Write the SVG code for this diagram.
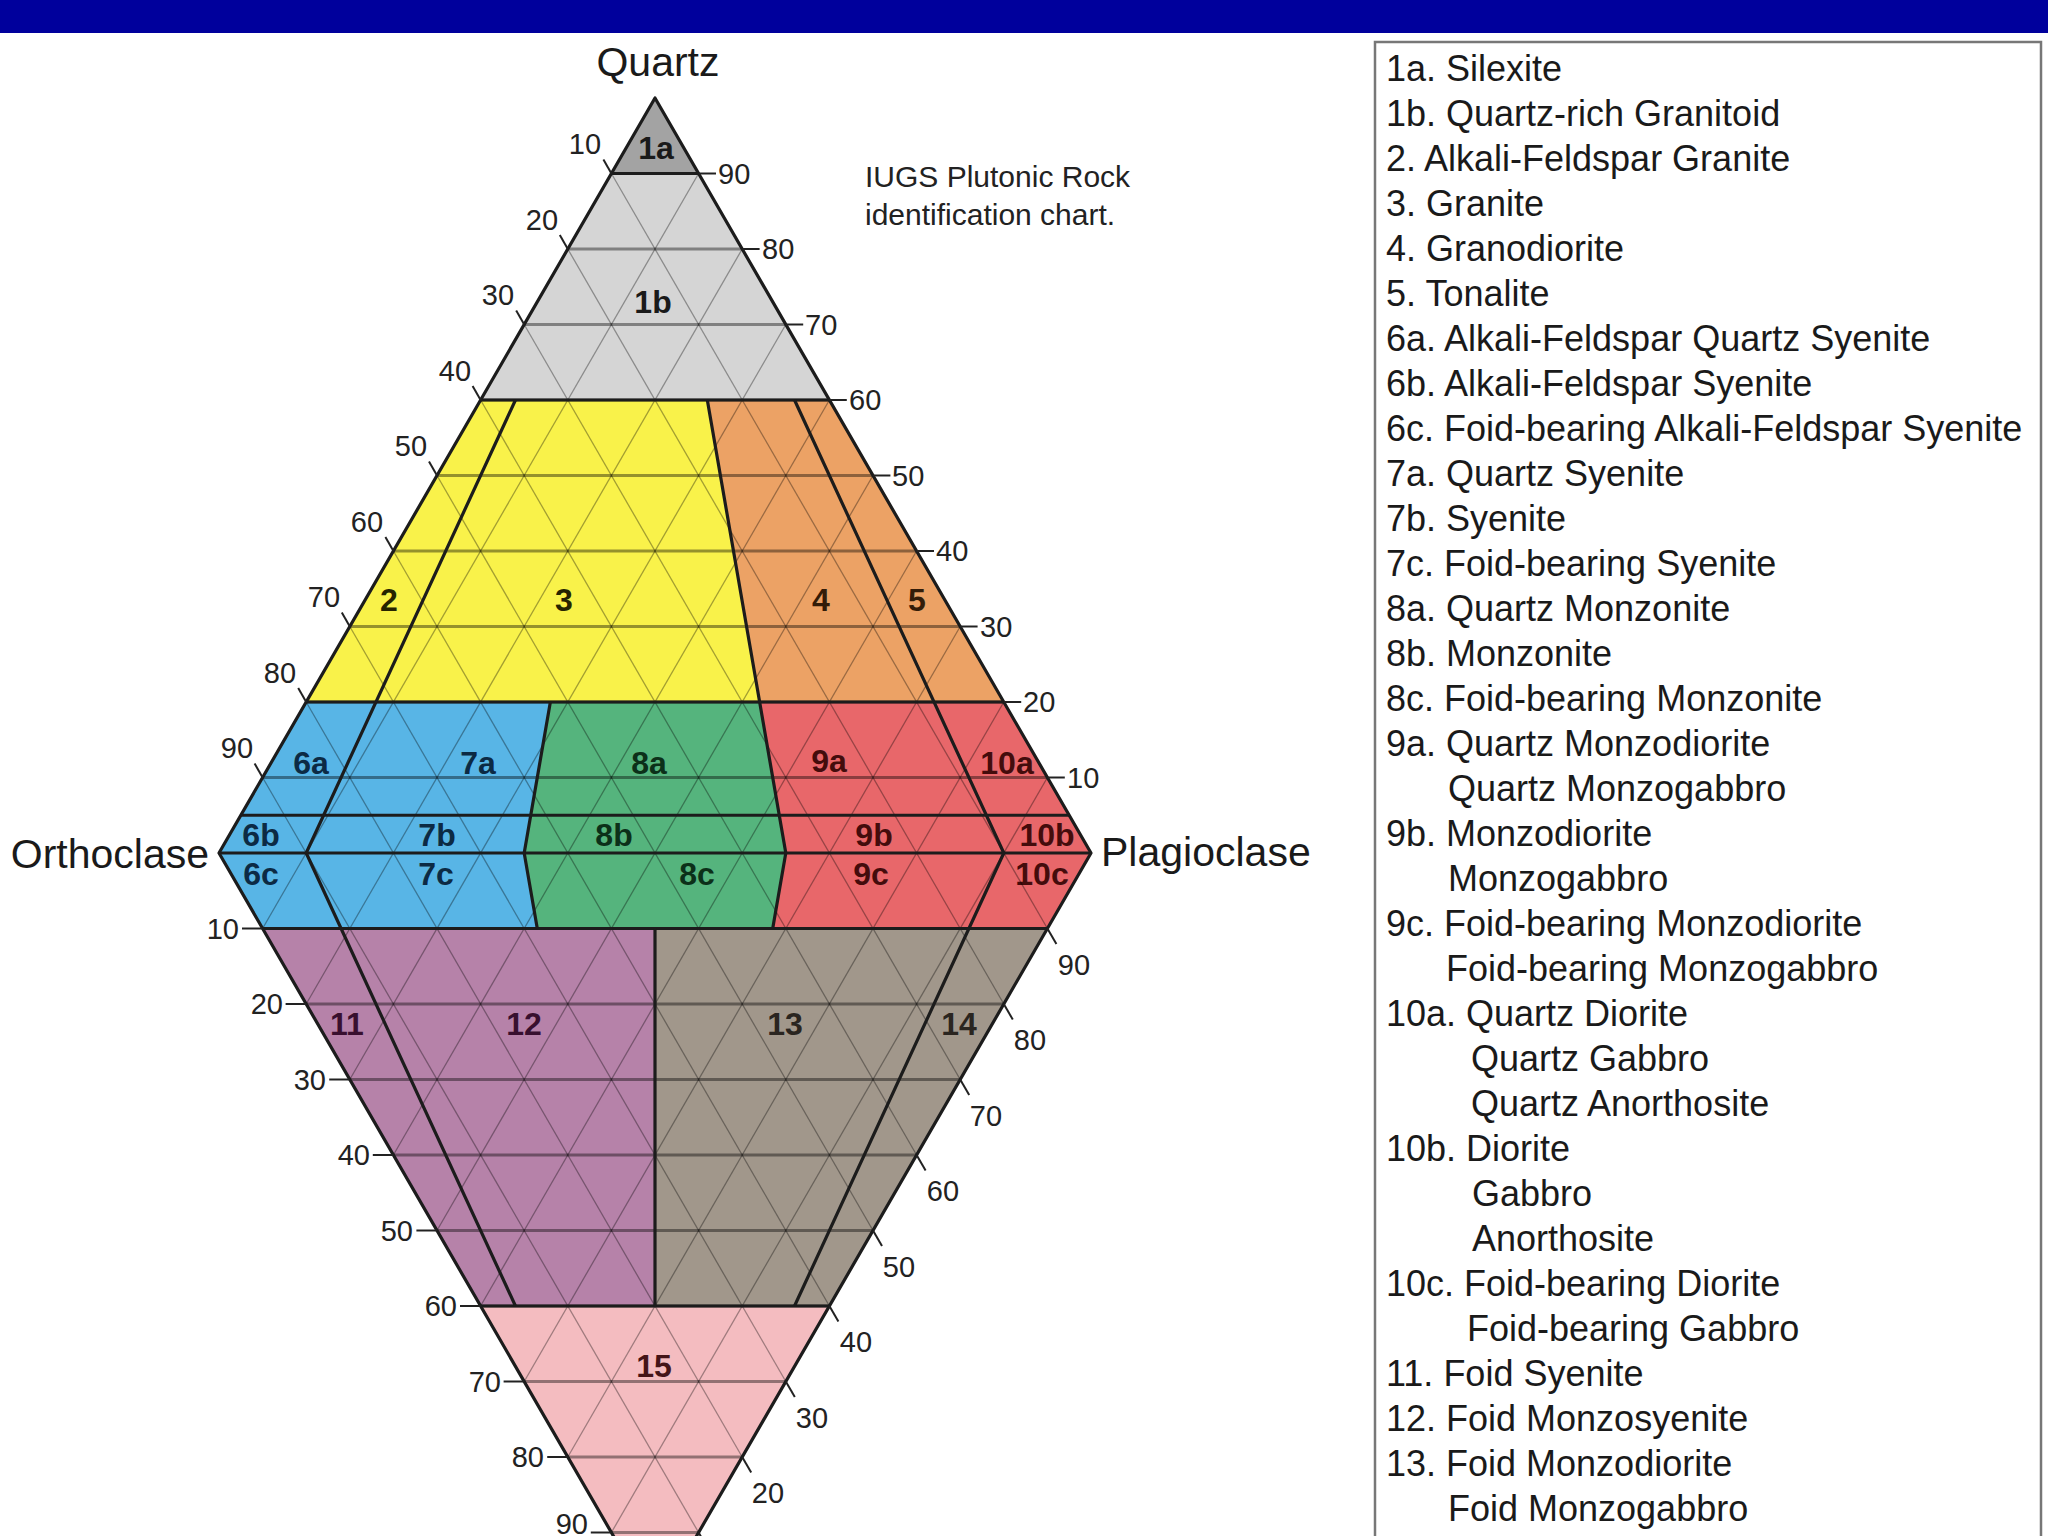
<svg xmlns="http://www.w3.org/2000/svg" width="2048" height="1536" viewBox="0 0 2048 1536">
<style>
.fld{stroke:none}
.lbl{font-family:"Liberation Sans",Arial,sans-serif;font-weight:bold;font-size:32px;fill:#1a1a1a;text-anchor:middle}
.grid line{stroke:#000;stroke-opacity:0.35;stroke-width:1.3}
.grid .h{stroke-width:2.8;stroke-opacity:0.4}
.bnd{fill:none;stroke:#1c1c1c;stroke-width:3.2;stroke-linejoin:round}
.tick{stroke:#222;stroke-width:2}
.tl{font-family:"Liberation Sans",Arial,sans-serif;font-size:29px;fill:#222}
.ax{font-family:"Liberation Sans",Arial,sans-serif;font-size:41px;fill:#1a1a1a}
.leg{font-family:"Liberation Sans",Arial,sans-serif;font-size:36px;fill:#1a1a1a}
</style>
<rect x="0" y="0" width="2048" height="1536" fill="#fff"/>
<rect x="0" y="0" width="2048" height="33" fill="#00009c"/>

<g id="node-1a"><polygon class="fld" fill="#a3a3a3" points="655,98 698.6,173.5 611.4,173.5"/><text class="lbl" x="656" y="159">1a</text></g>
<g id="node-1b"><polygon class="fld" fill="#d5d5d5" points="611.4,173.5 698.6,173.5 829.4,400 480.6,400"/><text class="lbl" x="653" y="313">1b</text></g>
<g id="node-2"><polygon class="fld" fill="#f9f24a" points="480.6,400 515.48,400 375.96,702 306.2,702"/><text class="lbl" x="389" y="611" style="fill:#262400">2</text></g>
<g id="node-3"><polygon class="fld" fill="#f9f24a" points="515.48,400 707.32,400 759.64,702 375.96,702"/><text class="lbl" x="564" y="611" style="fill:#262400">3</text></g>
<g id="node-4"><polygon class="fld" fill="#eca265" points="707.32,400 794.52,400 934.04,702 759.64,702"/><text class="lbl" x="821" y="611" style="fill:#331c08">4</text></g>
<g id="node-5"><polygon class="fld" fill="#eca265" points="794.52,400 829.4,400 1003.8,702 934.04,702"/><text class="lbl" x="917" y="611" style="fill:#331c08">5</text></g>
<g id="node-6" style="fill:#0c2a44"><polygon class="fld" fill="#58b5e6" points="306.2,702 375.96,702 306.2,853 341.08,928.5 262.6,928.5 219,853"/><text class="lbl" x="311" y="774" style="fill:#0c2a44">6a</text><text class="lbl" x="261" y="846" style="fill:#0c2a44">6b</text><text class="lbl" x="261" y="885" style="fill:#0c2a44">6c</text></g>
<g id="node-7"><polygon class="fld" fill="#58b5e6" points="375.96,702 550.36,702 524.2,853 537.28,928.5 341.08,928.5 306.2,853"/><text class="lbl" x="478" y="774" style="fill:#0c2a44">7a</text><text class="lbl" x="437" y="846" style="fill:#0c2a44">7b</text><text class="lbl" x="436" y="885" style="fill:#0c2a44">7c</text></g>
<g id="node-8"><polygon class="fld" fill="#55b47d" points="550.36,702 759.64,702 785.8,853 772.72,928.5 537.28,928.5 524.2,853"/><text class="lbl" x="649" y="774" style="fill:#0c3019">8a</text><text class="lbl" x="614" y="846" style="fill:#0c3019">8b</text><text class="lbl" x="697" y="885" style="fill:#0c3019">8c</text></g>
<g id="node-9"><polygon class="fld" fill="#e8676a" points="759.64,702 934.04,702 1003.8,853 968.92,928.5 772.72,928.5 785.8,853"/><text class="lbl" x="829" y="772" style="fill:#440c0c">9a</text><text class="lbl" x="874" y="846" style="fill:#440c0c">9b</text><text class="lbl" x="871" y="885" style="fill:#440c0c">9c</text></g>
<g id="node-10"><polygon class="fld" fill="#e8676a" points="934.04,702 1003.8,702 1091,853 1047.4,928.5 968.92,928.5 1003.8,853"/><text class="lbl" x="1007" y="774" style="fill:#440c0c">10a</text><text class="lbl" x="1047" y="846" style="fill:#440c0c">10b</text><text class="lbl" x="1042" y="885" style="fill:#440c0c">10c</text></g>
<g id="node-11"><polygon class="fld" fill="#b682a9" points="262.6,928.5 341.08,928.5 515.48,1306 480.6,1306"/><text class="lbl" x="347" y="1035" style="fill:#38102f">11</text></g>
<g id="node-12"><polygon class="fld" fill="#b682a9" points="341.08,928.5 655,928.5 655,1306 515.48,1306"/><text class="lbl" x="524" y="1035" style="fill:#38102f">12</text></g>
<g id="node-13"><polygon class="fld" fill="#a1978b" points="655,928.5 968.92,928.5 794.52,1306 655,1306"/><text class="lbl" x="785" y="1035" style="fill:#2a2520">13</text></g>
<g id="node-14"><polygon class="fld" fill="#a1978b" points="968.92,928.5 1047.4,928.5 829.4,1306 794.52,1306"/><text class="lbl" x="959" y="1035" style="fill:#2a2520">14</text></g>
<g id="node-15"><polygon class="fld" fill="#f4bcc0" points="480.6,1306 829.4,1306 655,1608"/><text class="lbl" x="654" y="1377" style="fill:#441418">15</text></g>

<g id="grid" class="grid">
<line class="h" x1="611.4" y1="173.5" x2="698.6" y2="173.5"/>
<line class="h" x1="567.8" y1="249" x2="742.2" y2="249"/>
<line class="h" x1="524.2" y1="324.5" x2="785.8" y2="324.5"/>
<line class="h" x1="480.6" y1="400" x2="829.4" y2="400"/>
<line class="h" x1="437" y1="475.5" x2="873" y2="475.5"/>
<line class="h" x1="393.4" y1="551" x2="916.6" y2="551"/>
<line class="h" x1="349.8" y1="626.5" x2="960.2" y2="626.5"/>
<line class="h" x1="306.2" y1="702" x2="1003.8" y2="702"/>
<line class="h" x1="262.6" y1="777.5" x2="1047.4" y2="777.5"/>
<line class="h" x1="262.6" y1="928.5" x2="1047.4" y2="928.5"/>
<line class="h" x1="306.2" y1="1004" x2="1003.8" y2="1004"/>
<line class="h" x1="349.8" y1="1079.5" x2="960.2" y2="1079.5"/>
<line class="h" x1="393.4" y1="1155" x2="916.6" y2="1155"/>
<line class="h" x1="437" y1="1230.5" x2="873" y2="1230.5"/>
<line class="h" x1="480.6" y1="1306" x2="829.4" y2="1306"/>
<line class="h" x1="524.2" y1="1381.5" x2="785.8" y2="1381.5"/>
<line class="h" x1="567.8" y1="1457" x2="742.2" y2="1457"/>
<line class="h" x1="611.4" y1="1532.5" x2="698.6" y2="1532.5"/>
<line x1="698.6" y1="173.5" x2="262.6" y2="928.5"/>
<line x1="742.2" y1="249" x2="306.2" y2="1004"/>
<line x1="785.8" y1="324.5" x2="349.8" y2="1079.5"/>
<line x1="829.4" y1="400" x2="393.4" y2="1155"/>
<line x1="873" y1="475.5" x2="437" y2="1230.5"/>
<line x1="916.6" y1="551" x2="480.6" y2="1306"/>
<line x1="960.2" y1="626.5" x2="524.2" y2="1381.5"/>
<line x1="1003.8" y1="702" x2="567.8" y2="1457"/>
<line x1="1047.4" y1="777.5" x2="611.4" y2="1532.5"/>
<line x1="611.4" y1="173.5" x2="1047.4" y2="928.5"/>
<line x1="567.8" y1="249" x2="1003.8" y2="1004"/>
<line x1="524.2" y1="324.5" x2="960.2" y2="1079.5"/>
<line x1="480.6" y1="400" x2="916.6" y2="1155"/>
<line x1="437" y1="475.5" x2="873" y2="1230.5"/>
<line x1="393.4" y1="551" x2="829.4" y2="1306"/>
<line x1="349.8" y1="626.5" x2="785.8" y2="1381.5"/>
<line x1="306.2" y1="702" x2="742.2" y2="1457"/>
<line x1="262.6" y1="777.5" x2="698.6" y2="1532.5"/>
</g>

<g id="connectors" class="bnd">
<polygon points="655,98 1091,853 655,1608 219,853"/>
<line x1="611.4" y1="173.5" x2="698.6" y2="173.5"/>
<line x1="480.6" y1="400" x2="829.4" y2="400"/>
<line x1="306.2" y1="702" x2="1003.8" y2="702"/>
<line x1="240.8" y1="815.25" x2="1069.2" y2="815.25"/>
<line x1="219" y1="853" x2="1091" y2="853"/>
<line x1="262.6" y1="928.5" x2="1047.4" y2="928.5"/>
<line x1="480.6" y1="1306" x2="829.4" y2="1306"/>
<polyline points="515.48,400 306.2,853 515.48,1306"/>
<polyline points="550.36,702 524.2,853 537.28,928.5"/>
<polyline points="707.32,400 785.8,853 772.72,928.5"/>
<polyline points="794.52,400 1003.8,853 794.52,1306"/>
<line x1="655" y1="928.5" x2="655" y2="1306"/>
</g>

<g id="ticks">
<g class="tick">
<line x1="611.4" y1="173.5" x2="603.4" y2="159.5"/>
<line x1="567.8" y1="249" x2="559.8" y2="235"/>
<line x1="524.2" y1="324.5" x2="516.2" y2="310.5"/>
<line x1="480.6" y1="400" x2="472.6" y2="386"/>
<line x1="437" y1="475.5" x2="429" y2="461.5"/>
<line x1="393.4" y1="551" x2="385.4" y2="537"/>
<line x1="349.8" y1="626.5" x2="341.8" y2="612.5"/>
<line x1="306.2" y1="702" x2="298.2" y2="688"/>
<line x1="262.6" y1="777.5" x2="254.6" y2="763.5"/>
<line x1="698.6" y1="173.5" x2="716" y2="173.5"/>
<line x1="742.2" y1="249" x2="759.6" y2="249"/>
<line x1="785.8" y1="324.5" x2="803.2" y2="324.5"/>
<line x1="829.4" y1="400" x2="846.8" y2="400"/>
<line x1="873" y1="475.5" x2="890.4" y2="475.5"/>
<line x1="916.6" y1="551" x2="934" y2="551"/>
<line x1="960.2" y1="626.5" x2="977.6" y2="626.5"/>
<line x1="1003.8" y1="702" x2="1021.2" y2="702"/>
<line x1="1047.4" y1="777.5" x2="1064.8" y2="777.5"/>
<line x1="262.6" y1="928.5" x2="242" y2="928.5"/>
<line x1="306.2" y1="1004" x2="285.6" y2="1004"/>
<line x1="349.8" y1="1079.5" x2="329.2" y2="1079.5"/>
<line x1="393.4" y1="1155" x2="372.8" y2="1155"/>
<line x1="437" y1="1230.5" x2="416.4" y2="1230.5"/>
<line x1="480.6" y1="1306" x2="460" y2="1306"/>
<line x1="524.2" y1="1381.5" x2="503.6" y2="1381.5"/>
<line x1="567.8" y1="1457" x2="547.2" y2="1457"/>
<line x1="611.4" y1="1532.5" x2="590.8" y2="1532.5"/>
<line x1="1047.4" y1="928.5" x2="1056.4" y2="944.1"/>
<line x1="1003.8" y1="1004" x2="1012.8" y2="1019.6"/>
<line x1="960.2" y1="1079.5" x2="969.2" y2="1095.1"/>
<line x1="916.6" y1="1155" x2="925.6" y2="1170.6"/>
<line x1="873" y1="1230.5" x2="882" y2="1246.1"/>
<line x1="829.4" y1="1306" x2="838.4" y2="1321.6"/>
<line x1="785.8" y1="1381.5" x2="794.8" y2="1397.1"/>
<line x1="742.2" y1="1457" x2="751.2" y2="1472.6"/>
<line x1="698.6" y1="1532.5" x2="707.6" y2="1548.1"/>
</g>
<g class="tl" text-anchor="middle">
<text x="585" y="154">10</text>
<text x="542" y="230">20</text>
<text x="498" y="305">30</text>
<text x="455" y="381">40</text>
<text x="411" y="456">50</text>
<text x="367" y="532">60</text>
<text x="324" y="607">70</text>
<text x="280" y="683">80</text>
<text x="237" y="758">90</text>
<text x="1074" y="975">90</text>
<text x="1030" y="1050">80</text>
<text x="986" y="1126">70</text>
<text x="943" y="1201">60</text>
<text x="899" y="1277">50</text>
<text x="856" y="1352">40</text>
<text x="812" y="1428">30</text>
<text x="768" y="1503">20</text>
</g>
<g class="tl" text-anchor="start">
<text x="718" y="184">90</text>
<text x="762" y="259">80</text>
<text x="805" y="335">70</text>
<text x="849" y="410">60</text>
<text x="892" y="486">50</text>
<text x="936" y="561">40</text>
<text x="980" y="637">30</text>
<text x="1023" y="712">20</text>
<text x="1067" y="788">10</text>
</g>
<g class="tl" text-anchor="end">
<text x="239" y="939">10</text>
<text x="283" y="1014">20</text>
<text x="326" y="1090">30</text>
<text x="370" y="1165">40</text>
<text x="413" y="1241">50</text>
<text x="457" y="1316">60</text>
<text x="501" y="1392">70</text>
<text x="544" y="1467">80</text>
<text x="588" y="1534">90</text>
</g>
</g>

<g id="axis-labels">
<text class="ax" x="658" y="76" text-anchor="middle">Quartz</text>
<text class="ax" x="209" y="868" text-anchor="end">Orthoclase</text>
<text class="ax" x="1101" y="866" text-anchor="start">Plagioclase</text>
<text class="tl" x="865" y="187" style="font-size:30px">IUGS Plutonic Rock</text>
<text class="tl" x="865" y="225" style="font-size:30px">identification chart.</text>
</g>

<g id="legend">
<rect x="1375" y="42" width="666" height="1530" fill="#fff" stroke="#777" stroke-width="2.5"/>
<g class="leg">
<text x="1386" y="81">1a. Silexite</text>
<text x="1386" y="126">1b. Quartz-rich Granitoid</text>
<text x="1386" y="171">2. Alkali-Feldspar Granite</text>
<text x="1386" y="216">3. Granite</text>
<text x="1386" y="261">4. Granodiorite</text>
<text x="1386" y="306">5. Tonalite</text>
<text x="1386" y="351">6a. Alkali-Feldspar Quartz Syenite</text>
<text x="1386" y="396">6b. Alkali-Feldspar Syenite</text>
<text x="1386" y="441">6c. Foid-bearing Alkali-Feldspar Syenite</text>
<text x="1386" y="486">7a. Quartz Syenite</text>
<text x="1386" y="531">7b. Syenite</text>
<text x="1386" y="576">7c. Foid-bearing Syenite</text>
<text x="1386" y="621">8a. Quartz Monzonite</text>
<text x="1386" y="666">8b. Monzonite</text>
<text x="1386" y="711">8c. Foid-bearing Monzonite</text>
<text x="1386" y="756">9a. Quartz Monzodiorite</text>
<text x="1448" y="801">Quartz Monzogabbro</text>
<text x="1386" y="846">9b. Monzodiorite</text>
<text x="1448" y="891">Monzogabbro</text>
<text x="1386" y="936">9c. Foid-bearing Monzodiorite</text>
<text x="1446" y="981">Foid-bearing Monzogabbro</text>
<text x="1386" y="1026">10a. Quartz Diorite</text>
<text x="1471" y="1071">Quartz Gabbro</text>
<text x="1471" y="1116">Quartz Anorthosite</text>
<text x="1386" y="1161">10b. Diorite</text>
<text x="1472" y="1206">Gabbro</text>
<text x="1472" y="1251">Anorthosite</text>
<text x="1386" y="1296">10c. Foid-bearing Diorite</text>
<text x="1467" y="1341">Foid-bearing Gabbro</text>
<text x="1386" y="1386">11. Foid Syenite</text>
<text x="1386" y="1431">12. Foid Monzosyenite</text>
<text x="1386" y="1476">13. Foid Monzodiorite</text>
<text x="1448" y="1521">Foid Monzogabbro</text>
</g>
</g>
</svg>
